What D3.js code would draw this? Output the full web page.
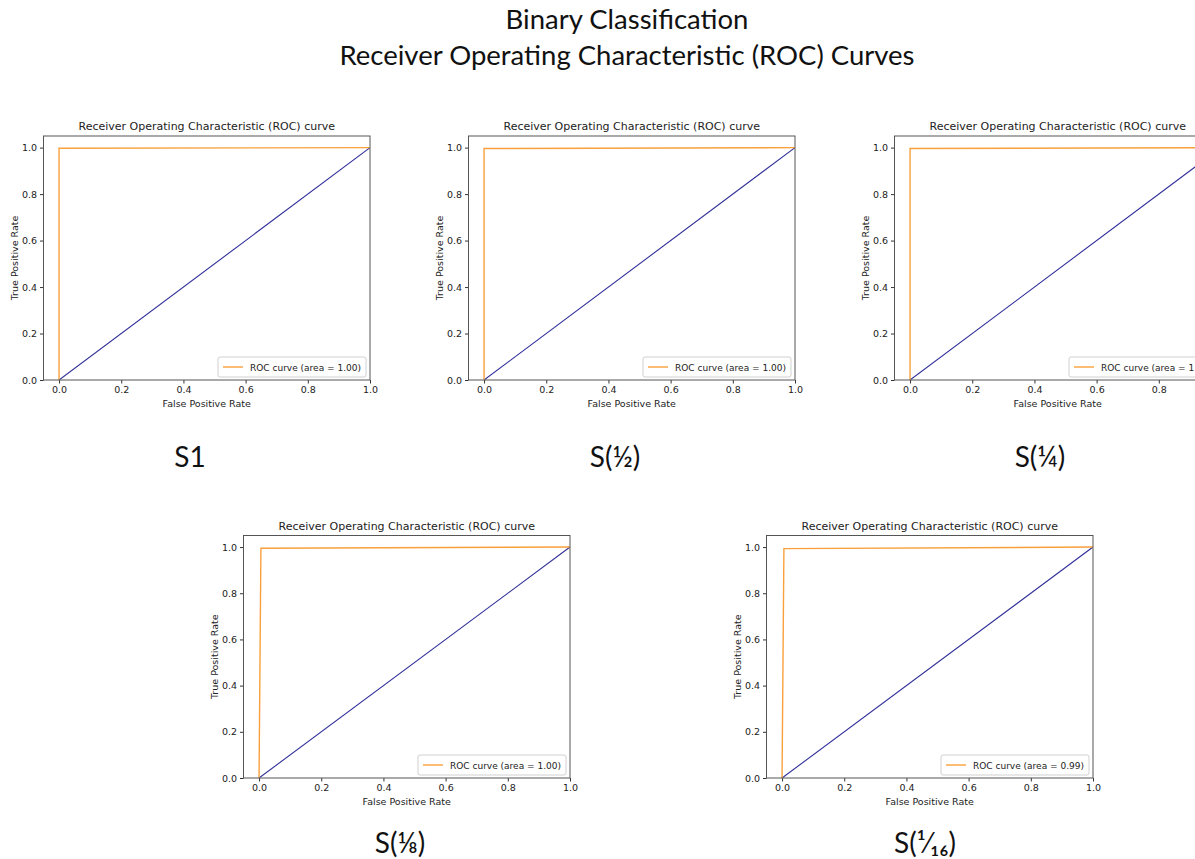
<!DOCTYPE html>
<html lang="en">
<head>
    <meta charset="UTF-8">
    <title>Binary Classification ROC Curves</title>
    <script src="https://d3js.org/d3.v7.min.js"></script>
    <style>
        body { margin: 0; padding: 0; background: #fff; overflow: hidden; }
        svg { display: block; }
        .tick text { font-family: "DejaVu Sans", sans-serif; font-size: 9.5px; fill: #222; }
        .tick line { stroke: #333; }
        .domain { stroke: none; }
    </style>
</head>
<body>

<script>
    // Chart data
    const panelNames = ["S1", "S(\u00BD)", "S(\u00BC)", "S(\u215B)", "S(\u00B9\u2044\u2081\u2086)"];
    const fprValues = [
        [0, 0.000, 1],
        [0, 0.000, 1],
        [0, 0.000, 1],
        [0, 0.006, 1],
        [0, 0.006, 1]
    ];
    const tprValues = [
        [0, 0.997, 1],
        [0, 0.996, 1],
        [0, 0.996, 1],
        [0, 0.995, 1],
        [0, 0.993, 1]
    ];
    const aucLabels = ["1.00", "1.00", "1.00", "1.00", "0.99"];
    const tickValues = [0, 0.2, 0.4, 0.6, 0.8, 1.0];

    const W = 1195, H = 859;

    // where each small plot sits on the page (left spine, top spine, width, height)
    const layout = [
        { left: 43.5,  top: 136,   w: 326.5, h: 244,   cap: [190, 457] },
        { left: 468.5, top: 136,   w: 326.5, h: 244,   cap: [615, 457] },
        { left: 894.5, top: 136,   w: 326.5, h: 244,   cap: [1040, 457] },
        { left: 243.5, top: 535.5, w: 326.5, h: 242.5, cap: [400, 843] },
        { left: 766.5, top: 535.5, w: 326.5, h: 242.5, cap: [925, 843] }
    ];

    const svg = d3.select("body").append("svg")
        .attr("width", W)
        .attr("height", H);

    // Main title
    const titleFont = "Lato, 'Open Sans', sans-serif";
    svg.append("text")
        .attr("x", 627).attr("y", 29)
        .attr("text-anchor", "middle")
        .style("font-family", titleFont)
        .style("font-size", "27.5px")
        .style("fill", "#111")
        .text("Binary Classification");
    svg.append("text")
        .attr("x", 627).attr("y", 65)
        .attr("text-anchor", "middle")
        .style("font-family", titleFont)
        .style("font-size", "27.5px")
        .style("fill", "#111")
        .text("Receiver Operating Characteristic (ROC) Curves");

    panelNames.forEach((name, i) => {
        const L = layout[i];
        const x = d3.scaleLinear().domain([-0.05, 1.0]).range([L.left, L.left + L.w]);
        const y = d3.scaleLinear().domain([0, 1.05]).range([L.top + L.h, L.top]);

        const g = svg.append("g");

        // clip so the curves stay inside the axes
        const clipId = "clip" + i;
        svg.append("clipPath").attr("id", clipId)
            .append("rect")
            .attr("x", L.left).attr("y", L.top)
            .attr("width", L.w).attr("height", L.h);

        // axes
        g.append("g")
            .attr("transform", `translate(0,${L.top + L.h})`)
            .call(d3.axisBottom(x).tickValues(tickValues).tickFormat(d3.format(".1f")).tickSizeOuter(0).tickSize(3.5).tickPadding(3));
        g.append("g")
            .attr("transform", `translate(${L.left},0)`)
            .call(d3.axisLeft(y).tickValues(tickValues).tickFormat(d3.format(".1f")).tickSizeOuter(0).tickSize(3.5).tickPadding(3));

        // curves
        const plot = g.append("g").attr("clip-path", `url(#${clipId})`);
        const line = d3.line().x(d => x(d[0])).y(d => y(d[1]));

        plot.append("path")
            .attr("d", line([[0, 0], [1, 1]]))
            .attr("fill", "none")
            .attr("stroke", "#30309a")
            .attr("stroke-width", 1.1);

        const pts = fprValues[i].map((f, k) => [f, tprValues[i][k]]);
        plot.append("path")
            .attr("d", line(pts))
            .attr("fill", "none")
            .attr("stroke", "#f9a03c")
            .attr("stroke-width", 1.4);

        // spines
        g.append("rect")
            .attr("x", L.left).attr("y", L.top)
            .attr("width", L.w).attr("height", L.h)
            .attr("fill", "none")
            .attr("stroke", "#555")
            .attr("stroke-width", 1);

        // subplot title
        g.append("text")
            .attr("x", L.left + L.w / 2).attr("y", L.top - 6)
            .attr("text-anchor", "middle")
            .style("font-family", "DejaVu Sans, sans-serif")
            .style("font-size", "11px")
            .style("fill", "#222")
            .text("Receiver Operating Characteristic (ROC) curve");

        // axis labels
        g.append("text")
            .attr("x", L.left + L.w / 2).attr("y", L.top + L.h + 27)
            .attr("text-anchor", "middle")
            .style("font-family", "DejaVu Sans, sans-serif")
            .style("font-size", "9.5px")
            .style("fill", "#222")
            .text("False Positive Rate");
        g.append("text")
            .attr("transform", `translate(${L.left - 26},${L.top + L.h / 2}) rotate(-90)`)
            .attr("text-anchor", "middle")
            .style("font-family", "DejaVu Sans, sans-serif")
            .style("font-size", "9.5px")
            .style("fill", "#222")
            .text("True Positive Rate");

        // legend
        const lgW = 148, lgH = 20;
        const lgX = L.left + L.w - 4 - lgW, lgY = L.top + L.h - 3 - lgH;
        const lg = g.append("g");
        lg.append("rect")
            .attr("x", lgX).attr("y", lgY)
            .attr("width", lgW).attr("height", lgH)
            .attr("rx", 2)
            .attr("fill", "#fff")
            .attr("stroke", "#d0d0d0");
        lg.append("line")
            .attr("x1", lgX + 5).attr("x2", lgX + 25)
            .attr("y1", lgY + lgH / 2).attr("y2", lgY + lgH / 2)
            .attr("stroke", "#f9a03c")
            .attr("stroke-width", 1.4);
        lg.append("text")
            .attr("x", lgX + 32).attr("y", lgY + lgH / 2 + 3.5)
            .style("font-family", "DejaVu Sans, sans-serif")
            .style("font-size", "9px")
            .style("fill", "#222")
            .text(`ROC curve (area = ${aucLabels[i]})`);

        // caption under each panel
        svg.append("text")
            .attr("x", L.cap[0]).attr("y", L.cap[1] + 10)
            .attr("text-anchor", "middle")
            .style("font-family", titleFont)
            .style("font-size", "28px")
            .style("fill", "#111")
            .text(name);
    });
</script>

</body>
</html>
